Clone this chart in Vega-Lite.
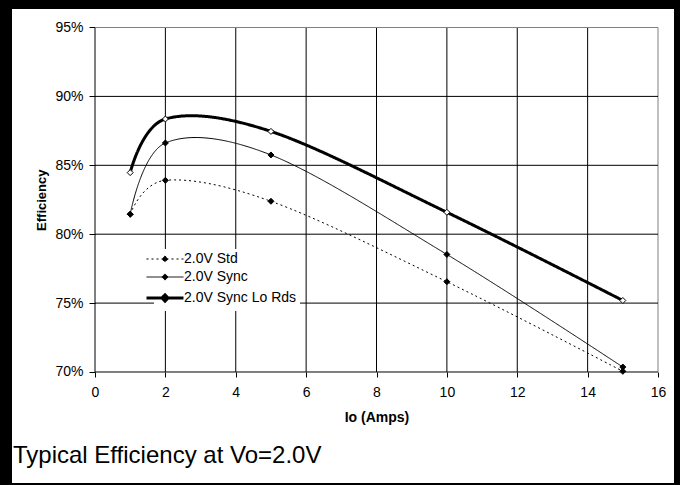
{
  "$schema": "https://vega.github.io/schema/vega-lite/v6.json",
  "width": 662,
  "height": 474,
  "autosize": {"type": "none"},
  "padding": {"left": 12, "top": 9, "right": 6, "bottom": 2},
  "background": "black",
  "config": {
    "view": {"fill": "white", "stroke": null},
    "font": "Liberation Sans",
    "axis": {"labelFont": "Liberation Sans", "titleFont": "Liberation Sans"},
    "legend": {"labelFont": "Liberation Sans"}
  },
  "title": {
    "text": "Typical Efficiency at Vo=2.0V",
    "orient": "bottom",
    "anchor": "start",
    "frame": "group",
    "fontSize": 24,
    "fontWeight": "normal",
    "font": "Liberation Sans",
    "color": "black",
    "baseline": "alphabetic",
    "offset": -20,
    "dx": 1
  },
  "datasets": {
    "points": [
      {"series": "2.0V Std", "io": 1, "eff": 0.8145},
      {"series": "2.0V Std", "io": 2, "eff": 0.8391},
      {"series": "2.0V Std", "io": 5, "eff": 0.8239},
      {"series": "2.0V Std", "io": 10, "eff": 0.7655},
      {"series": "2.0V Std", "io": 15, "eff": 0.7005},
      {"series": "2.0V Sync", "io": 1, "eff": 0.8145},
      {"series": "2.0V Sync", "io": 2, "eff": 0.8662},
      {"series": "2.0V Sync", "io": 5, "eff": 0.8575},
      {"series": "2.0V Sync", "io": 10, "eff": 0.7853},
      {"series": "2.0V Sync", "io": 15, "eff": 0.7036},
      {"series": "2.0V Sync Lo Rds", "io": 1, "eff": 0.8447},
      {"series": "2.0V Sync Lo Rds", "io": 2, "eff": 0.8836},
      {"series": "2.0V Sync Lo Rds", "io": 5, "eff": 0.8746},
      {"series": "2.0V Sync Lo Rds", "io": 10, "eff": 0.8159},
      {"series": "2.0V Sync Lo Rds", "io": 15, "eff": 0.7519}
    ],
    "xgrid": [{"v": 0}, {"v": 2}, {"v": 4}, {"v": 6}, {"v": 8}, {"v": 10}, {"v": 12}, {"v": 14}, {"v": 16}],
    "ygrid": [{"v": 0.70}, {"v": 0.75}, {"v": 0.80}, {"v": 0.85}, {"v": 0.90}, {"v": 0.95}]
  },
  "layer": [
    {
      "data": {"name": "xgrid"},
      "mark": {"type": "rule", "strokeWidth": 1},
      "encoding": {
        "x": {
          "field": "v",
          "type": "quantitative",
          "title": "Io (Amps)",
          "scale": {"domain": [-2.3588, 16.4547], "nice": false, "zero": false},
          "axis": {
            "values": [0, 2, 4, 6, 8, 10, 12, 14, 16],
            "offset": -111,
            "domain": false,
            "grid": false,
            "tickSize": 5,
            "tickColor": "black",
            "labelFontSize": 14,
            "labelColor": "black",
            "labelPadding": 8,
            "labelFlush": false,
            "labelOverlap": false,
            "titleFontSize": 14,
            "titleFontWeight": "bold",
            "titleColor": "black",
            "titleX": 364.5,
            "titleY": 49,
            "titleBaseline": "alphabetic",
            "titleAlign": "center"
          }
        },
        "y": {"datum": 0.70, "type": "quantitative"},
        "y2": {"datum": 0.95},
        "color": {"condition": {"test": "datum.v === 16", "value": "#808080"}, "value": "black"}
      }
    },
    {
      "data": {"name": "ygrid"},
      "mark": {"type": "rule", "strokeWidth": 1},
      "encoding": {
        "y": {
          "field": "v",
          "type": "quantitative",
          "title": "Efficiency",
          "scale": {"domain": [0.619448, 0.963425], "nice": false, "zero": false},
          "axis": {
            "values": [0.70, 0.75, 0.80, 0.85, 0.90, 0.95],
            "format": ".0%",
            "offset": -83,
            "domain": false,
            "grid": false,
            "tickSize": 6,
            "tickColor": "black",
            "labelFontSize": 14,
            "labelColor": "black",
            "labelPadding": 6,
            "labelFlush": false,
            "labelOverlap": false,
            "titleFontSize": 13,
            "titleFontWeight": "bold",
            "titleColor": "black",
            "titleAngle": 270,
            "titleX": -49.5,
            "titleY": 190.75,
            "titleBaseline": "alphabetic",
            "titleAlign": "center"
          }
        },
        "x": {"datum": 0, "type": "quantitative"},
        "x2": {"datum": 16},
        "color": {"condition": {"test": "datum.v === 0.95", "value": "#808080"}, "value": "black"}
      }
    },
    {
      "data": {"name": "points"},
      "mark": {"type": "line", "interpolate": "cardinal", "color": "black"},
      "encoding": {
        "x": {"field": "io", "type": "quantitative", "title": "Io (Amps)"},
        "y": {"field": "eff", "type": "quantitative", "title": "Efficiency"},
        "strokeWidth": {
          "field": "series",
          "type": "nominal",
          "scale": {"type": "ordinal", "domain": ["2.0V Std", "2.0V Sync", "2.0V Sync Lo Rds"], "range": [1, 1, 3]}
        },
        "strokeDash": {
          "field": "series",
          "type": "nominal",
          "scale": {"domain": ["2.0V Std", "2.0V Sync", "2.0V Sync Lo Rds"], "range": [[2, 3], [1, 0], [1, 0]]},
          "legend": {
            "title": null,
            "orient": "none",
            "legendX": 142,
            "legendY": 240,
            "symbolType": "M-3,0L3,0M0,-0.5L0.5,0L0,0.5L-0.5,0Z",
            "symbolSize": 152,
            "symbolStrokeColor": "black",
            "labelFontSize": 14,
            "labelColor": "black",
            "labelOffset": 11,
            "rowPadding": 4,
            "padding": 3,
            "fillColor": "white",
            "encode": {
              "symbols": {
                "update": {
                  "fill": [
                    {"test": "datum.value === '2.0V Sync Lo Rds'", "value": "white"},
                    {"value": "black"}
                  ],
                  "stroke": {"value": "black"}
                }
              }
            }
          }
        }
      }
    },
    {
      "data": {"name": "points"},
      "mark": {"type": "point", "shape": "diamond", "size": 36, "filled": true, "stroke": "black", "strokeWidth": 1, "opacity": 1},
      "encoding": {
        "x": {"field": "io", "type": "quantitative", "title": "Io (Amps)"},
        "y": {"field": "eff", "type": "quantitative", "title": "Efficiency"},
        "fill": {
          "field": "series",
          "type": "nominal",
          "scale": {"domain": ["2.0V Std", "2.0V Sync", "2.0V Sync Lo Rds"], "range": ["black", "black", "white"]},
          "legend": null
        }
      }
    }
  ]
}
